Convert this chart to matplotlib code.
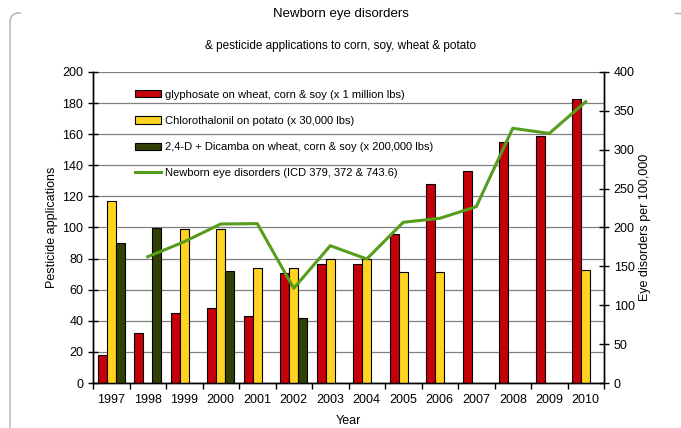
import matplotlib
matplotlib.use("Agg")
import matplotlib.pyplot as plt
import numpy as np
from matplotlib.patches import Patch
from matplotlib.lines import Line2D
from matplotlib.path import Path
from matplotlib.patches import PathPatch

plt.rcParams['font.family'] = ['Liberation Sans', 'DejaVu Sans']

years = ['1997', '1998', '1999', '2000', '2001', '2002', '2003', '2004',
         '2005', '2006', '2007', '2008', '2009', '2010']
glyphosate = [18, 32.4, 45.2, 48.4, 43.3, 70.9, 76.3, 76.3, 95.8, 128, 136.3, 155, 158.6, 182.4]
chlorothalonil = [117.2, np.nan, 98.8, 98.8, 73.7, 73.7, 79.5, 79.7, 71.4, 71.4, np.nan, np.nan, np.nan, 72.7]
dicamba = [89.8, 99.9, np.nan, 72, np.nan, 41.6, np.nan, np.nan, np.nan, np.nan, np.nan, np.nan, np.nan, np.nan]
eye = [np.nan, 162.4, 181.7, 204.5, 205, 121.8, 176.6, 159.5, 206.7, 211.8, 226.8, 327.6, 321, 361.8]

labels = ['glyphosate on wheat, corn & soy (x 1 million lbs)',
          'Chlorothalonil on potato (x 30,000 lbs)',
          '2,4-D + Dicamba on wheat, corn & soy (x 200,000 lbs)',
          'Newborn eye disorders (ICD 379, 372 & 743.6)']

c_red = '#C5000B'
c_yel = '#FFD320'
c_dark = '#314004'
c_line = '#579D1C'

W, H = 681, 428
fig = plt.figure(figsize=(W / 100, H / 100), dpi=100)

# partial rounded frame (left side + corner, short top-right piece)
def fx(px):
    return px / W
def fy(py):
    return 1 - py / H
verts = [(fx(10), fy(430)), (fx(10), fy(22)), (fx(10), fy(13)), (fx(19), fy(13)), (fx(21), fy(13))]
codes = [Path.MOVETO, Path.LINETO, Path.CURVE3, Path.CURVE3, Path.LINETO]
fig.patches.append(PathPatch(Path(verts, codes), transform=fig.transFigure, fill=False,
                             edgecolor='#b0b0b0', linewidth=1.0))
fig.add_artist(Line2D([fx(675), fx(681)], [fy(12.5), fy(12.5)], transform=fig.transFigure,
                      color='#b0b0b0', linewidth=1.0))

ax = fig.add_axes([93 / W, 1 - 383 / H, (604 - 93) / W, (383 - 72) / H])
ax2 = ax.twinx()

x = np.arange(len(years))
w = 0.25
ax.bar(x - w, glyphosate, w, color=c_red, edgecolor='black', linewidth=0.8, zorder=3)
ax.bar(x, chlorothalonil, w, color=c_yel, edgecolor='black', linewidth=0.8, zorder=3)
ax.bar(x + w, dicamba, w, color=c_dark, edgecolor='black', linewidth=0.8, zorder=3)
ax2.plot(x, eye, color=c_line, linewidth=2.2, zorder=4)

ax.set_xlim(-0.5, len(years) - 0.5)
ax.set_ylim(0, 200)
ax2.set_ylim(0, 400)
ax.set_yticks(np.arange(0, 201, 20))
ax2.set_yticks(np.arange(0, 401, 50))
ax.yaxis.grid(True, color='#808080', linewidth=0.9, zorder=0)
ax.set_axisbelow(True)

ax.set_xticks(x)
ax.set_xticklabels(years)
ax.set_xticks(np.arange(-0.5, len(years), 1), minor=True)
ax.tick_params(axis='x', which='major', length=0, labelsize=9, pad=8)
ax.tick_params(axis='x', which='minor', length=4, width=1, direction='out')
ax.tick_params(axis='y', labelsize=9, length=7, width=1, direction='inout')
ax2.tick_params(axis='y', labelsize=9, length=7, width=1, direction='inout')

for a in (ax, ax2):
    a.spines['top'].set_visible(False)
    for sp in a.spines.values():
        sp.set_linewidth(1.0)

ax.set_ylabel('Pesticide applications', fontsize=9, labelpad=3)
ax2.set_ylabel('Eye disorders per 100,000', fontsize=9, labelpad=3)
ax.set_xlabel('Year', fontsize=9, labelpad=6.5)

handles = [Patch(facecolor=c_red, edgecolor='black', linewidth=0.8),
           Patch(facecolor=c_yel, edgecolor='black', linewidth=0.8),
           Patch(facecolor=c_dark, edgecolor='black', linewidth=0.8),
           Line2D([0], [0], color=c_line, linewidth=2.2)]
ax2.legend(handles, labels, loc='upper left', bbox_to_anchor=(0.073, 0.957),
           frameon=False, fontsize=8, labelspacing=1.45, handlelength=2.4,
           handleheight=0.6, handletextpad=0.3, borderaxespad=0)

fig.text(0.5, 1 - 14 / H, 'Newborn eye disorders', ha='center', va='center', fontsize=9.5)
fig.text(0.5, 1 - 46 / H, '& pesticide applications to corn, soy, wheat & potato',
         ha='center', va='center', fontsize=8.5)

fig.savefig('out.png', dpi=100)
